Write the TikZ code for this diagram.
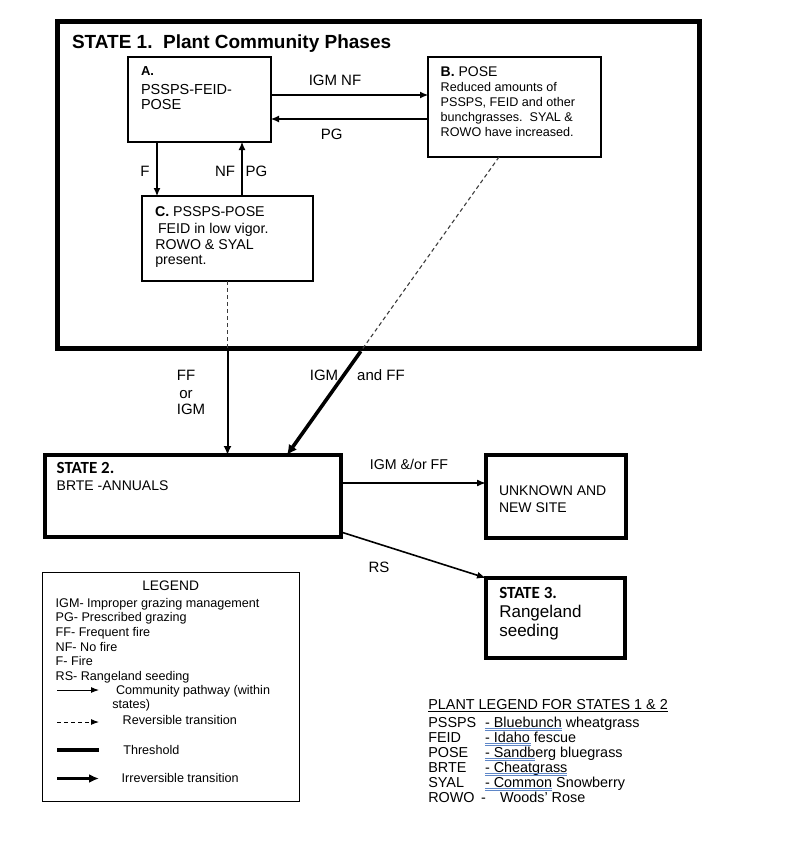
\documentclass[tikz,border=0pt]{standalone}
\usepackage{fontspec}
\setmainfont{Liberation Sans}
\newfontfamily\carl{Carlito}
\usetikzlibrary{arrows.meta,calc}
\definecolor{spellblue}{RGB}{95,135,200}
\definecolor{dashgray}{RGB}{60,60,60}
\newcommand\fsz[1]{\fontsize{#1}{#1}\selectfont}
\tikzset{
  bx/.style={draw, inner sep=0pt, outer sep=0pt, anchor=north west},
  thinbox/.style={bx, line width=1.1pt},
  thickbox/.style={bx, line width=4pt},
  tx/.style={anchor=base west, inner sep=0pt, outer sep=0pt},
  lb/.style={anchor=base, inner sep=0pt, outer sep=0pt, font=\fsz{15}},
  pway/.style={line width=1.1pt, -{Latex[length=8pt,width=7pt]}},
  pway2/.style={line width=1.6pt, -{Latex[length=9pt,width=7pt]}},
  revline/.style={line width=1.1pt, dashgray, dash pattern=on 4pt off 3pt},
  trans/.style={line width=2pt, -{Latex[length=9pt,width=8pt]}},
  irrev/.style={line width=3.6pt, -{Latex[length=10pt,width=10pt]}},
  spell/.style={line width=0.7pt, spellblue}
}
\begin{document}
\begin{tikzpicture}[x=1pt,y=-1pt]
\useasboundingbox (0,0) rectangle (800,843);
% ---------- boxes
\node[bx, line width=5pt, minimum width=642pt, minimum height=326pt] (S1) at (57,22) {};
\node[thinbox, minimum width=143pt, minimum height=85pt] (A) at (128,57) {};
\node[thinbox, minimum width=173pt, minimum height=100pt] (B) at (428,57) {};
\node[thinbox, minimum width=171pt, minimum height=85pt] (C) at (142,196) {};
\node[thickbox, minimum width=296pt, minimum height=82pt] (S2) at (45,455) {};
\node[thickbox, minimum width=140pt, minimum height=83pt] (U) at (486,455) {};
\node[thickbox, minimum width=139pt, minimum height=80pt] (S3) at (486,578) {};
\node[bx, line width=0.9pt, minimum width=257pt, minimum height=229pt] (L) at (42,572) {};
% ---------- helper coordinates
\coordinate (h95) at (0,95);
\coordinate (h119) at (0,119);
\coordinate (v157) at (157,0);
\coordinate (v242) at (242,0);
\coordinate (h483) at (0,483);
\coordinate (h532) at (0,532);
\coordinate (bd) at ($(B.south west)+(71,0)$);
\coordinate (tip) at ($(S2.north west)+(242,0)$);
\coordinate (jn) at ($(bd)!0.652!(tip)$);
% ---------- connectors
\draw[pway] (A.east |- h95) -- (B.west |- h95);
\draw[pway] (B.west |- h119) -- (A.east |- h119);
\draw[pway] (A.south -| v157) -- (C.north -| v157);
\draw[pway] (C.north -| v242) -- (A.south -| v242);
\draw[revline] (C.south) -- (C.south |- S1.south);
\draw[trans] (C.south |- S1.south) -- (C.south |- S2.north);
\draw[revline] (bd) -- (jn);
\draw[irrev] (jn) -- (tip);
\draw[pway2] (S2.east |- h483) -- (U.west |- h483);
\draw[pway2] (S2.east |- h532) -- (S3.north west);
% ---------- state 1 texts
\node[tx, font=\fsz{19}\bfseries] (t1) at (72,48.3) {STATE 1.\ \ Plant Community Phases};
\node[tx, font=\fsz{13}\bfseries] (ta1) at (141,76) {A.};
\node[tx, font=\fsz{14.5}] (ta2) at (141,94.5) {PSSPS-FEID-};
\node[tx, font=\fsz{14.5}] (ta3) at (141,109.3) {POSE};
\node[tx, font=\fsz{14}] (tb1) at (440.7,77) {\textbf{B.} POSE};
\node[tx, font=\fsz{12.6}] (tb2) at (440.7,91.5) {Reduced amounts of};
\node[tx, font=\fsz{12.6}] (tb3) at (440.7,106.5) {PSSPS, FEID and other};
\node[tx, font=\fsz{12.6}] (tb4) at (440.7,121.5) {bunchgrasses.\ \ SYAL \&};
\node[tx, font=\fsz{12.6}] (tb5) at (440.7,136.5) {ROWO have increased.};
\node[tx, font=\fsz{14.2}] (tc1) at (155,216) {\textbf{C.} PSSPS-POSE};
\node[tx, font=\fsz{14.2}] (tc2) at (158,233) {FEID in low vigor.};
\node[tx, font=\fsz{14.2}] (tc3) at (155.3,249) {ROWO \& SYAL};
\node[tx, font=\fsz{14.2}] (tc4) at (155.3,264) {present.};
% ---------- connector labels
\node[lb] (l1) at (335,85.7) {IGM NF};
\node[lb] (l2) at (331.7,139) {PG};
\node[lb] (l3) at (145,176.7) {F};
\node[lb] (l4) at (225,176.7) {NF};
\node[lb] (l5) at (256.5,176.7) {PG};
\node[lb] (l6) at (186,380) {FF};
\node[lb] (l7) at (186,398.3) {or};
\node[lb] (l8) at (191,414) {IGM};
\node[lb] (l9) at (324,380) {IGM};
\node[lb] (l10) at (381,380) {and FF};
\node[lb, font=\fsz{14.2}] (l11) at (409,469) {IGM \&/or FF};
\node[lb] (l12) at (379,572.7) {RS};
% ---------- state 2, unknown, state 3
\node[tx, font=\fsz{17}\carl\bfseries] (ts2a) at (56.7,473.3) {STATE 2.};
\node[tx, font=\fsz{14}] (ts2b) at (56.7,490.7) {BRTE -ANNUALS};
\node[tx, font=\fsz{14}] (tu1) at (499,495.7) {UNKNOWN AND};
\node[tx, font=\fsz{14}] (tu2) at (499,512.3) {NEW SITE};
\node[tx, font=\fsz{17}\carl\bfseries] (ts3a) at (499.3,598.3) {STATE 3.};
\node[tx, font=\fsz{17}] (ts3b) at (499.3,617.3) {Rangeland};
\node[tx, font=\fsz{17}] (ts3c) at (499.3,636.7) {seeding};
% ---------- legend
\node[anchor=base, inner sep=0pt, font=\fsz{13.8}] (lg0) at (170.7,590.7) {LEGEND};
\node[tx, font=\fsz{12.6}] (lg1) at (55.7,607.3) {IGM- Improper grazing management};
\node[tx, font=\fsz{12.6}] (lg2) at (55.7,621.8) {PG- Prescribed grazing};
\node[tx, font=\fsz{12.6}] (lg3) at (55.7,636.3) {FF- Frequent fire};
\node[tx, font=\fsz{12.6}] (lg4) at (55.7,651) {NF- No fire};
\node[tx, font=\fsz{12.6}] (lg5) at (55.7,665.5) {F- Fire};
\node[tx, font=\fsz{12.6}] (lg6) at (55.7,680) {RS- Rangeland seeding};
\coordinate (k1a) at (57,690); \coordinate (k1b) at (99,690);
\coordinate (k2a) at (57,722); \coordinate (k2b) at (99,722);
\coordinate (k3a) at (57,749.5); \coordinate (k3b) at (99,749.5);
\coordinate (k4a) at (57,778.5); \coordinate (k4b) at (99,778.5);
\draw[line width=1pt, -{Latex[length=8pt,width=6pt]}] (k1a) -- (k1b);
\draw[line width=1pt, dash pattern=on 4pt off 3pt, -{Latex[length=8pt,width=6pt]}] (k2a) -- (k2b);
\draw[line width=4pt] (k3a) -- (k3b);
\draw[line width=3pt, -{Latex[length=10pt,width=9pt]}] (k4a) -- (k4b);
\node[tx, font=\fsz{12.6}] (lg7) at (116,694.5) {Community pathway (within};
\node[tx, font=\fsz{12.6}] (lg8) at (112.3,708.5) {states)};
\node[tx, font=\fsz{12.6}] (lg9) at (122.7,724) {Reversible transition};
\node[tx, font=\fsz{12.6}] (lg10) at (123.3,754) {Threshold};
\node[tx, font=\fsz{12.6}] (lg11) at (121.7,782.7) {Irreversible transition};
% ---------- plant legend
\node[tx, font=\fsz{14.4}] (pl0) at (428.3,709) {PLANT LEGEND FOR STATES 1 \& 2};
\draw[line width=0.8pt] ([yshift=-2.2pt]pl0.base west) -- ([yshift=-2.2pt]pl0.base east);
\node[tx, font=\fsz{14.4}] (pc1) at (428.3,727) {PSSPS};
\node[tx, font=\fsz{14.4}] (pc2) at (428.3,742) {FEID};
\node[tx, font=\fsz{14.4}] (pc3) at (428.3,757) {POSE};
\node[tx, font=\fsz{14.4}] (pc4) at (428.3,772) {BRTE};
\node[tx, font=\fsz{14.4}] (pc5) at (428.3,787) {SYAL};
\node[tx, font=\fsz{14.4}] (pc6) at (428.3,802) {ROWO};
\node[tx, font=\fsz{14.4}] (pn1) at (485,727) {- Bluebunch wheatgrass};
\node[tx, font=\fsz{14.4}] (pn2) at (485,742) {- Idaho fescue};
\node[tx, font=\fsz{14.4}] (pn3) at (485,757) {- Sandberg bluegrass};
\node[tx, font=\fsz{14.4}] (pn4) at (485,772) {- Cheatgrass};
\node[tx, font=\fsz{14.4}] (pn5) at (485,787) {- Common Snowberry};
\node[tx, font=\fsz{14.4}] (pn6a) at (481,802) {-};
\node[tx, font=\fsz{14.4}] (pn6b) at (500,802) {Woods' Rose};
\foreach \yy/\ww in {727/77, 742/46, 757/50, 772/82, 787/67}{
  \draw[spell] (485,\yy+1.3) -- ++(\ww,0);
  \draw[spell] (485,\yy+3.1) -- ++(\ww,0);
}
\end{tikzpicture}
\end{document}
